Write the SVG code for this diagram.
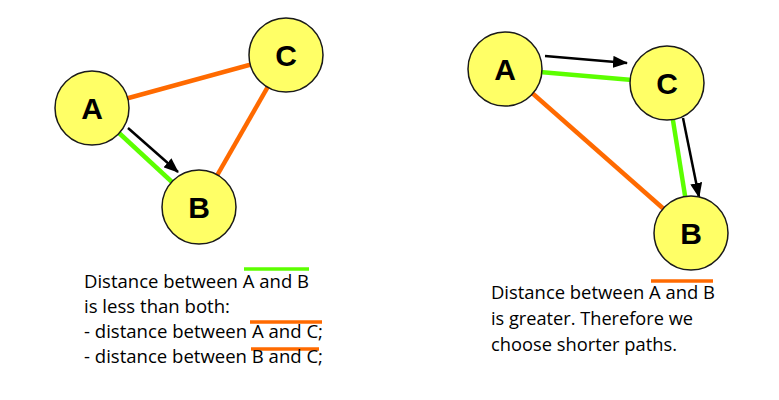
<svg xmlns="http://www.w3.org/2000/svg" width="779" height="400" viewBox="0 0 779 400">
<style>
.node circle{fill:#FFFF66;stroke:#1a1a1a;stroke-width:1.5}
.node text{font-family:"Liberation Sans",Arial,sans-serif;font-weight:bold;font-size:30px;text-anchor:middle;fill:#000}
.or{stroke:#FF6A00;stroke-width:4.5;fill:none}
.gr{stroke:#5CFF00;stroke-width:4.5;fill:none}
.ar{stroke:#000;stroke-width:2.5;fill:none;marker-end:url(#ah)}
.t{font-family:"Open Sans","Noto Sans",sans-serif;font-size:19px;fill:#000}
</style>
<defs>
<marker id="ah" viewBox="0 0 15 12" refX="14" refY="6" markerWidth="15" markerHeight="12" markerUnits="userSpaceOnUse" orient="auto">
<path d="M0,0 L15,6 L0,12 Z" fill="#000"/>
</marker>
</defs>
<rect width="779" height="400" fill="#fff"/>
<g id="connectors">
<line class="or" x1="92" y1="108" x2="286" y2="55"/>
<line class="or" x1="286" y1="55" x2="199" y2="207"/>
<line class="gr" x1="92" y1="108" x2="199" y2="207"/>
<line class="ar" x1="128" y1="128" x2="178" y2="172"/>
<line class="gr" x1="505" y1="69" x2="667" y2="83"/>
<line class="gr" x1="667" y1="83" x2="691" y2="233"/>
<line class="or" x1="505" y1="69" x2="691" y2="233"/>
<line class="ar" x1="545" y1="56" x2="627" y2="63"/>
<line class="ar" x1="683" y1="118" x2="699" y2="197"/>
</g>
<g id="L_A" class="node"><circle cx="92" cy="108" r="37"/><text x="92" y="119">A</text></g>
<g id="L_B" class="node"><circle cx="199" cy="207" r="37"/><text x="199" y="218">B</text></g>
<g id="L_C" class="node"><circle cx="286" cy="55" r="37"/><text x="286" y="66">C</text></g>
<g id="R_A" class="node"><circle cx="505" cy="69" r="37"/><text x="505" y="80">A</text></g>
<g id="R_C" class="node"><circle cx="667" cy="83" r="37"/><text x="667" y="94">C</text></g>
<g id="R_B" class="node"><circle cx="691" cy="233" r="37"/><text x="691" y="244">B</text></g>
<g id="left-text">
<line class="gr" x1="244" y1="269" x2="309" y2="269" style="stroke-width:3.5"/>
<line class="or" x1="250" y1="322" x2="322" y2="322" style="stroke-width:3.5"/>
<line class="or" x1="251" y1="349" x2="319" y2="349" style="stroke-width:3.5"/>
<text class="t" x="84" y="287.5" textLength="225" lengthAdjust="spacingAndGlyphs">Distance between A and B</text>
<text class="t" x="84" y="312.5" textLength="146" lengthAdjust="spacingAndGlyphs">is less than both:</text>
<text class="t" x="84" y="338" textLength="239" lengthAdjust="spacingAndGlyphs">- distance between A and C;</text>
<text class="t" x="84" y="363" textLength="239" lengthAdjust="spacingAndGlyphs">- distance between B and C;</text>
</g>
<g id="right-text">
<line class="or" x1="651" y1="281" x2="713" y2="281" style="stroke-width:3.5"/>
<text class="t" x="491" y="299" textLength="224" lengthAdjust="spacingAndGlyphs">Distance between A and B</text>
<text class="t" x="491" y="325" textLength="202" lengthAdjust="spacingAndGlyphs">is greater. Therefore we</text>
<text class="t" x="491" y="351" textLength="186" lengthAdjust="spacingAndGlyphs">choose shorter paths.</text>
</g>
</svg>
